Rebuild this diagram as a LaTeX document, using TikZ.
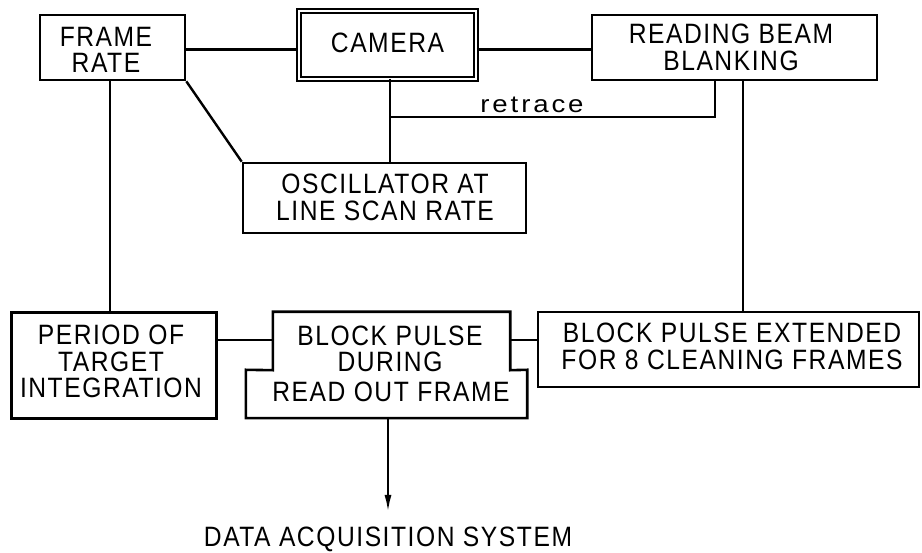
\documentclass[tikz,border=0pt]{standalone}
\usepackage{fontspec}
\setmainfont{Liberation Sans}[LetterSpace=5.5,FakeStretch=0.88]
\usetikzlibrary{arrows.meta}
\begin{document}
\begin{tikzpicture}[x=1pt,y=-1pt,
  lbl/.style={inner sep=0pt, align=center, font=\fontsize{28}{26.5}\selectfont},
  bx/.style={inner sep=0pt, draw, line width=2.6pt},
  shapebox/.style={inner sep=0pt, draw=none},
  wire/.style={line width=2.4pt},
  dbl/.style={inner sep=0pt, draw, double=white, line width=1.9pt, double distance=2.4pt}]
\useasboundingbox (0,0) rectangle (922,553);
% top row
\node[bx, minimum width=145pt, minimum height=65pt] (fr) at (112.5,47.5) {};
\node[lbl] (frt) at (106,50) {FRAME\\RATE};
\node[dbl, minimum width=177pt, minimum height=68pt] (cam) at (387.5,45) {};
\node[lbl] (camt) at (387.5,43) {CAMERA};
\node[bx, minimum width=285pt, minimum height=65pt] (rb) at (734.5,47.5) {};
\node[lbl] (rbt) at (731,47.5) {READING BEAM\\BLANKING};
% oscillator
\node[bx, minimum width=283pt, minimum height=70pt] (osc) at (384.5,198) {};
\node[lbl] (osct) at (385,197.5) {OSCILLATOR AT\\LINE SCAN RATE};
% bottom row
\node[bx, minimum width=205pt, minimum height=106pt] (per) at (114,365.5) {};
\node[lbl] (pert) at (111,361.5) {PERIOD OF\\TARGET\\INTEGRATION};
\node[shapebox, minimum width=237pt, minimum height=58pt] (blk) at (391.5,341) {};
\node[shapebox, minimum width=281pt, minimum height=48pt] (blkb) at (386.5,394) {};
\draw[line width=2.6pt, line join=miter] (blkb.south west) -- (blkb.north west) -- (blk.south west) -- (blk.north west)
  -- (blk.north east) -- (blk.south east) -- (blkb.north east) -- (blkb.south east) -- cycle;
\node[lbl] (blktxt) at (390,349) {BLOCK PULSE\\DURING};
\node[lbl] (blkbtxt) at (391,392) {READ OUT FRAME};
\node[bx, minimum width=381pt, minimum height=75pt] (ext) at (728.5,349.5) {};
\node[lbl, font=\fontsize{28}{27}\selectfont] (extt) at (732,346.5) {BLOCK PULSE EXTENDED\\FOR 8 CLEANING FRAMES};
% output
\node[lbl] (das) at (388,539) {DATA ACQUISITION SYSTEM};
% helper points
\coordinate (tip) at (388,512);
\coordinate (ytop) at (0,49.5);
\coordinate (ybot) at (0,340);
\coordinate (rtj) at (390,117);
\coordinate (camS) at (390,79);
\coordinate (rbL) at (715,80);
\coordinate (rbR) at (743,80);
\coordinate (frS) at (110,80);
\coordinate (blkS) at (388,418);
% connectors
\draw[wire] (fr.east |- ytop) -- (cam.west |- ytop);
\draw[wire] (cam.east |- ytop) -- (rb.west |- ytop);
\draw[wire] (camS) -- (camS |- osc.north);
\draw[wire] (rtj) -- (rtj -| rbL) -- (rbL);
\node[lbl, font=\fontsize{24}{24}\selectfont\addfontfeature{FakeStretch=1.15,LetterSpace=12}] (rlab) at (532,105) {retrace};
\draw[wire] (rbR) -- (rbR |- ext.north);
\draw[wire] (frS) -- (frS |- per.north);
\draw[wire] (fr.south east) -- (osc.north west);
\draw[wire] (per.east |- ybot) -- (blk.west |- ybot);
\draw[wire] (blk.east |- ybot) -- (ext.west |- ybot);
\draw[line width=2.2pt, -{Latex[length=17pt,width=7pt]}] (blkS) -- (tip);
\end{tikzpicture}
\end{document}
